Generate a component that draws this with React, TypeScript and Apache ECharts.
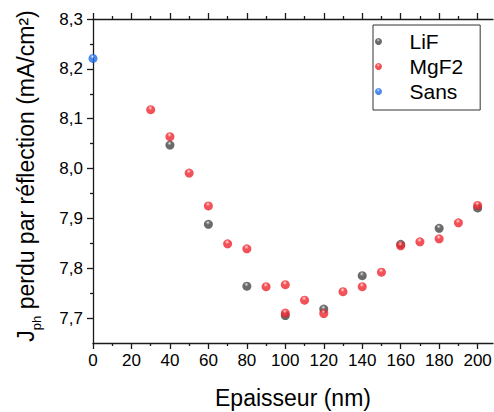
import React, { useEffect, useRef } from 'react';
import * as echarts from 'echarts';

const xMajorTicks = [0, 20, 40, 60, 80, 100, 120, 140, 160, 180, 200];
const xMinorTicks = [10, 30, 50, 70, 90, 110, 130, 150, 170, 190];
const yMajorTicks = [7.7, 7.8, 7.9, 8.0, 8.1, 8.2, 8.3];
const yMinorTicks = [7.75, 7.85, 7.95, 8.05, 8.15, 8.25];

const seriesNames = ['LiF', 'MgF2', 'Sans'];

const lifThickness = [40, 60, 80, 100, 120, 140, 160, 180, 200];
const lifValues = [8.047, 7.888, 7.764, 7.705, 7.718, 7.785, 7.848, 7.88, 7.921];

const mgf2Thickness = [30, 40, 50, 60, 70, 80, 90, 100, 100, 110, 120, 130, 140, 150, 160, 170, 180, 190, 200];
const mgf2Values = [8.118, 8.064, 7.991, 7.925, 7.849, 7.839, 7.763, 7.767, 7.71, 7.736, 7.709, 7.753, 7.763, 7.792, 7.845, 7.853, 7.859, 7.891, 7.926];

const sansThickness = [0];
const sansValues = [8.221];

const FONT = '"Liberation Sans", Arial, sans-serif';
const AXIS_COLOR = '#1a1a1a';

function ball(light: string, base: string, dark: string) {
  return {
    type: 'radial',
    x: 0.45,
    y: 0.3,
    r: 0.72,
    colorStops: [
      { offset: 0, color: '#ffffff' },
      { offset: 0.12, color: light },
      { offset: 0.35, color: base },
      { offset: 0.85, color: base },
      { offset: 1, color: dark },
    ],
  };
}

function pairs(xs: number[], ys: number[]) {
  return xs.map((x, i) => [x, ys[i]]);
}

export default function App() {
  const ref = useRef<HTMLDivElement>(null);
  useEffect(() => {
    document.body.style.margin = '0';
    if (!ref.current) return;
    const chart = echarts.init(ref.current, null, { renderer: 'svg' });
    const lineStyle = { color: AXIS_COLOR, width: 1.3 };
    const baseX = {
      type: 'value',
      min: 0,
      max: 208,
      splitLine: { show: false },
    };
    const baseY = {
      type: 'value',
      min: 7.65,
      max: 8.3,
      splitLine: { show: false },
    };
    chart.setOption({
      animation: false,
      textStyle: { fontFamily: FONT },
      grid: { left: 93, top: 19, right: 1, bottom: 69, containLabel: false, outerBoundsMode: 'none' },
      legend: {
        orient: 'vertical',
        left: 373,
        top: 25,
        padding: [6, 17, 8, 2],
        itemGap: 4,
        itemWidth: 52,
        itemHeight: 7,
        icon: 'circle',
        borderColor: '#333',
        borderWidth: 1,
        borderRadius: 0,
        selectedMode: false,
        data: seriesNames,
        textStyle: { fontSize: 21, color: '#000', fontFamily: FONT },
      },
      xAxis: [
        {
          ...baseX,
          position: 'bottom',
          axisLine: { show: true, lineStyle },
          axisTick: { show: true, length: 6, customValues: xMajorTicks, lineStyle },
          axisLabel: { show: true, customValues: xMajorTicks, fontSize: 17, color: '#000', margin: 9, fontFamily: FONT },
          name: 'Epaisseur (nm)',
          nameLocation: 'middle',
          nameGap: 43,
          nameTextStyle: { fontSize: 23, color: '#000', fontFamily: FONT },
        },
        {
          ...baseX,
          position: 'bottom',
          axisLine: { show: false },
          axisTick: { show: true, length: 3, customValues: xMinorTicks, lineStyle },
          axisLabel: { show: false },
        },
        {
          ...baseX,
          position: 'top',
          axisLine: { show: true, lineStyle },
          axisTick: { show: true, length: 6, customValues: xMajorTicks, lineStyle },
          axisLabel: { show: false },
        },
        {
          ...baseX,
          position: 'top',
          axisLine: { show: false },
          axisTick: { show: true, length: 3, customValues: xMinorTicks, lineStyle },
          axisLabel: { show: false },
        },
      ],
      yAxis: [
        {
          ...baseY,
          position: 'left',
          axisLine: { show: true, lineStyle },
          axisTick: { show: true, length: 6, customValues: yMajorTicks, lineStyle },
          axisLabel: {
            show: true,
            customValues: yMajorTicks,
            fontSize: 17,
            color: '#000',
            margin: 10,
            fontFamily: FONT,
            formatter: (v: number) => v.toFixed(1).replace('.', ','),
          },
          name: '{m|J}{s|ph}{m| perdu par réflection (mA/cm²)}',
          nameLocation: 'middle',
          nameGap: 53,
          nameTextStyle: {
            padding: [0, 0, 0, 10],
            rich: {
              m: { fontSize: 23, lineHeight: 26, verticalAlign: 'top', color: '#000', fontFamily: FONT },
              s: { fontSize: 13, lineHeight: 13, verticalAlign: 'top', padding: [16, 0, 0, 0], color: '#000', fontFamily: FONT },
            },
          },
        },
        {
          ...baseY,
          position: 'left',
          axisLine: { show: false },
          axisTick: { show: true, length: 3, customValues: yMinorTicks, lineStyle },
          axisLabel: { show: false },
        },
      ],
      series: [
        {
          name: 'LiF',
          type: 'scatter',
          xAxisIndex: 0,
          yAxisIndex: 0,
          symbol: 'circle',
          symbolSize: 9,
          data: pairs(lifThickness, lifValues),
          itemStyle: { color: ball('#9a9a9a', '#454545', '#262626') },
        },
        {
          name: 'MgF2',
          type: 'scatter',
          xAxisIndex: 0,
          yAxisIndex: 0,
          symbol: 'circle',
          symbolSize: 9,
          data: pairs(mgf2Thickness, mgf2Values),
          itemStyle: { color: ball('#ff8f8f', '#f0262f', '#c41018') },
        },
        {
          name: 'Sans',
          type: 'scatter',
          xAxisIndex: 0,
          yAxisIndex: 0,
          symbol: 'circle',
          symbolSize: 9,
          data: pairs(sansThickness, sansValues),
          itemStyle: { color: ball('#8ab8ff', '#1f6ce8', '#0d4cc0') },
        },
      ],
    });
    return () => chart.dispose();
  }, []);
  return <div ref={ref} style={{ width: 494, height: 412 }} />;
}
